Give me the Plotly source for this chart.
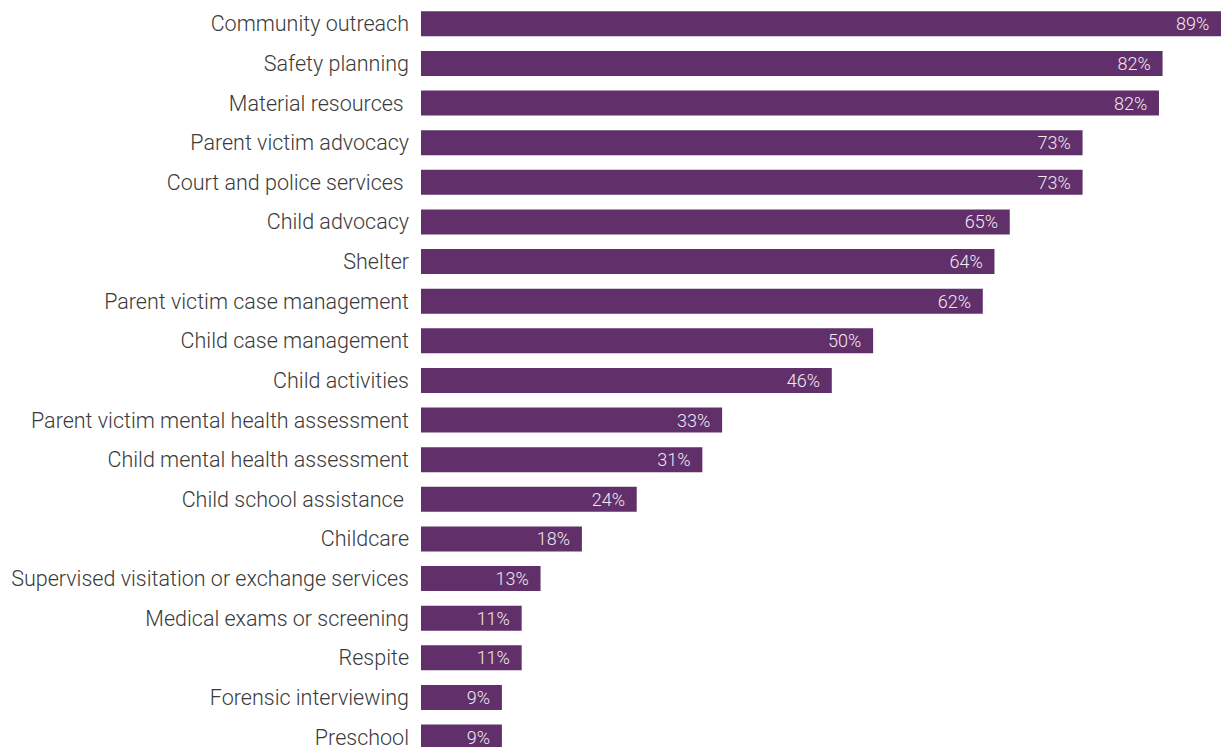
import plotly.graph_objects as go

categories = [
    "Community outreach",
    "Safety planning",
    "Material resources ",
    "Parent victim advocacy",
    "Court and police services ",
    "Child advocacy",
    "Shelter",
    "Parent victim case management",
    "Child case management",
    "Child activities",
    "Parent victim mental health assessment",
    "Child mental health assessment",
    "Child school assistance ",
    "Childcare",
    "Supervised visitation or exchange services",
    "Medical exams or screening",
    "Respite",
    "Forensic interviewing",
    "Preschool",
]
values = [89, 82.5, 82.1, 73.6, 73.6, 65.5, 63.8, 62.5, 50.3, 45.7,
          33.5, 31.3, 24.0, 17.9, 13.3, 11.2, 11.2, 9.0, 9.0]
value_labels = ["89%", "82%", "82%", "73%", "73%", "65%", "64%", "62%", "50%", "46%",
                "33%", "31%", "24%", "18%", "13%", "11%", "11%", "9%", "9%"]

tick_text = [c[:-1] + "\u00a0" if c.endswith(" ") else c for c in categories]
bar_text = [t + "\u00a0\u00a0" for t in value_labels]

fig = go.Figure(go.Bar(
    x=values,
    y=categories,
    orientation="h",
    marker=dict(color="#612f69", line=dict(width=0)),
    text=bar_text,
    textposition="inside",
    insidetextanchor="end",
    textangle=0,
    textfont=dict(family="Roboto", size=18, color="#f0e9f1", weight=300),
    cliponaxis=False,
    hoverinfo="skip",
))

fig.update_layout(
    width=1224,
    height=747,
    margin=dict(l=421, r=3, t=0, b=0),
    paper_bgcolor="white",
    plot_bgcolor="white",
    bargap=0.37,
    showlegend=False,
    uniformtext=dict(minsize=18, mode="show"),
)
fig.update_xaxes(range=[0, 89], visible=False, fixedrange=True)
fig.update_yaxes(
    categoryorder="array",
    categoryarray=categories,
    tickmode="array",
    tickvals=categories,
    ticktext=tick_text,
    range=[18.25, -0.6],
    showgrid=False,
    zeroline=False,
    showline=False,
    ticks="",
    ticklabelstandoff=11,
    tickfont=dict(family="Roboto", size=21.5, color="#3a3a3a", weight=300),
    automargin=False,
    fixedrange=True,
)

fig.write_html(
    "out.html",
    config={"displayModeBar": False, "staticPlot": True},
    post_script="document.body.style.margin='0';document.body.style.overflow='hidden';",
)
